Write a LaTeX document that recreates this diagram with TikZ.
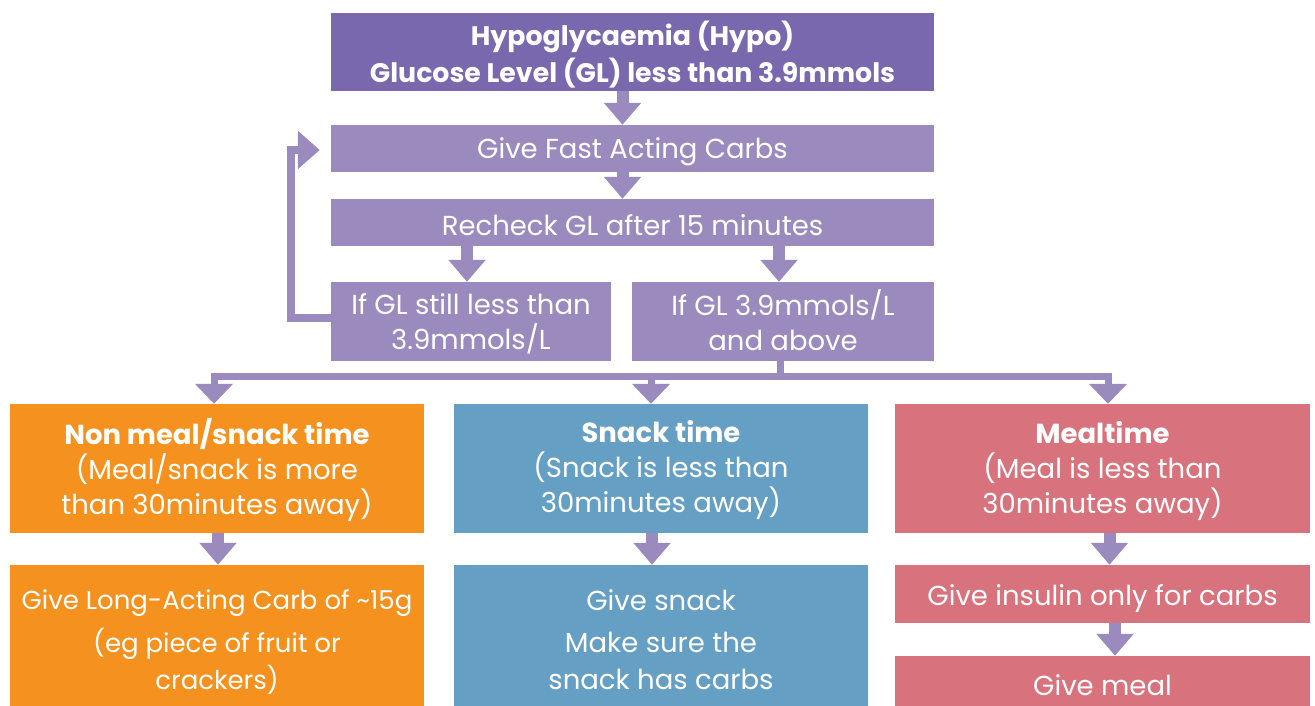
\documentclass[tikz,border=0pt]{standalone}
\usepackage{fontspec}
\setmainfont{Poppins}
\usetikzlibrary{arrows.meta}
\definecolor{dpurple}{HTML}{7A68AE}
\definecolor{lpurple}{HTML}{9A8ABD}
\definecolor{corange}{HTML}{F5921F}
\definecolor{cblue}{HTML}{65A0C4}
\definecolor{cpink}{HTML}{D8727C}
\tikzset{
  box/.style={fill=#1, inner sep=0pt},
  txt/.style={text=white, inner sep=0pt, align=center, font=\fontsize{27.5}{35}\selectfont},
  blk/.style={draw=lpurple, line width=12pt, -{Triangle[width=36pt,length=22pt]}},
  thin/.style={draw=lpurple, line width=7pt, -{Triangle[width=37pt,length=20pt]}},
  plain/.style={draw=lpurple, line width=7pt},
}
\begin{document}
\begin{tikzpicture}[x=1pt,y=-1pt]
\useasboundingbox (0,0) rectangle (1315,706);
\node[box=dpurple, minimum width=603pt, minimum height=78pt] (top) at (632.5,52) {};
\node[txt, yshift=-3pt, font=\fontsize{26.8}{37}\selectfont\bfseries] (topT) at (top) {Hypoglycaemia (Hypo)\\Glucose Level (GL) less than 3.9mmols};
\node[box=lpurple, minimum width=603pt, minimum height=47pt] (fast) at (632.5,148.5) {};
\node[txt, yshift=-3.5pt] (fastT) at (fast) {Give Fast Acting Carbs};
\node[box=lpurple, minimum width=603pt, minimum height=47pt] (recheck) at (632.5,222.5) {};
\node[txt, yshift=-3pt] (recheckT) at (recheck) {Recheck GL after 15 minutes};
\node[box=lpurple, minimum width=280pt, minimum height=79pt] (still) at (471,321.5) {};
\node[txt, yshift=-2pt] (stillT) at (still) {If GL still less than\\3.9mmols/L};
\node[box=lpurple, minimum width=302pt, minimum height=79pt] (go) at (783,321.5) {};
\node[txt, yshift=1pt] (goT) at (go) {If GL 3.9mmols/L\\and above};
\node[box=corange, minimum width=414pt, minimum height=129pt] (nonmeal) at (217,468.5) {};
\node[txt, yshift=-1pt] (nonmealT) at (nonmeal) {\textbf{Non meal/snack time}\\(Meal/snack is more\\than 30minutes away)};
\node[box=cblue, minimum width=414pt, minimum height=129pt] (snack) at (661,468.5) {};
\node[txt, yshift=-2pt] (snackT) at (snack) {\textbf{Snack time}\\(Snack is less than\\30minutes away)};
\node[box=cpink, minimum width=415pt, minimum height=129pt] (meal) at (1102.5,468.5) {};
\node[txt, yshift=-3pt] (mealT) at (meal) {\textbf{Mealtime}\\(Meal is less than\\30minutes away)};
\node[box=corange, minimum width=414pt, minimum height=141pt] (longc) at (217,635.5) {};
\node[txt, yshift=-6pt, font=\fontsize{26}{37}\selectfont] (longcT) at (longc) {Give Long-Acting Carb of \textasciitilde15g\\[6pt](eg piece of fruit or\\crackers)};
\node[box=cblue, minimum width=414pt, minimum height=141pt] (gsnack) at (661,635.5) {};
\node[txt, yshift=-4pt, font=\fontsize{27.5}{37}\selectfont] (gsnackT) at (gsnack) {Give snack\\[5pt]Make sure the\\snack has carbs};
\node[box=cpink, minimum width=415pt, minimum height=58pt] (insulin) at (1102.5,594) {};
\node[txt, yshift=-4.5pt] (insulinT) at (insulin) {Give insulin only for carbs};
\node[box=cpink, minimum width=415pt, minimum height=50pt] (gmeal) at (1102.5,681) {};
\node[txt, yshift=-4pt] (gmealT) at (gmeal) {Give meal};
% arrows
\draw[blk] ([xshift=-10pt]top.south) -- ([xshift=-10pt]fast.north);
\draw[blk] ([xshift=-10pt]fast.south) -- ([xshift=-10pt]recheck.north);
\draw[blk] (recheck.south -| 467,0) -- (still.north -| 467,0);
\draw[blk] (recheck.south -| 779,0) -- (go.north -| 779,0);
\draw[draw=lpurple, line width=8pt, -{Triangle[width=37pt,length=22pt]}, shorten >=11pt]
  ([yshift=3.5pt]still.west) -| (291,150) -- (fast.west |- 0,150);
\coordinate (bj) at (780,376);
\draw[plain] (go.south -| bj) -- (bj);
\draw[thin] (bj) -| ([xshift=-3pt]nonmeal.north);
\draw[thin] (bj) -| ([xshift=5.5pt]meal.north);
\draw[thin] (bj) -| ([xshift=-10pt]snack.north);
\draw[blk] ([xshift=1pt]nonmeal.south) -- ([xshift=1pt]longc.north);
\draw[blk] ([xshift=-9pt]snack.south) -- ([xshift=-9pt]gsnack.north);
\draw[blk] ([xshift=7pt]meal.south) -- ([xshift=7pt]insulin.north);
\draw[blk] ([xshift=12.5pt]insulin.south) -- ([xshift=12.5pt]gmeal.north);
\end{tikzpicture}
\end{document}
